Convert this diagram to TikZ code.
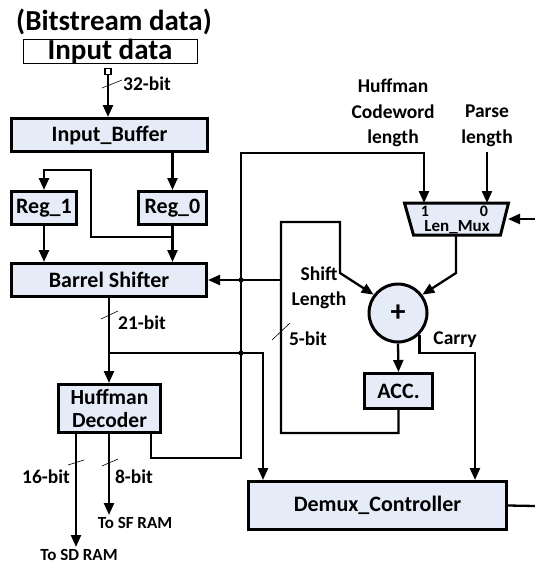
\documentclass[tikz,border=0pt]{standalone}
\usepackage{fontspec}
\setmainfont{Carlito}
\usetikzlibrary{arrows.meta}
\definecolor{boxblue}{RGB}{230,236,247}

\begin{document}
\begin{tikzpicture}[x=1pt,y=-1pt,
  blk/.style={draw, line width=3pt, fill=boxblue, inner sep=0pt, align=center,
    font=\fontsize{22}{26}\selectfont\bfseries},
  arr/.style={line width=2.3pt, -{Triangle[length=12pt,width=10pt]}},
  wire/.style={line width=2.3pt},
  lbl/.style={inner sep=0pt, align=center, font=\fontsize{19.5}{25.5}\selectfont\bfseries},
  small/.style={inner sep=0pt, font=\fontsize{17}{18}\selectfont\bfseries},
  tick/.style={line width=0.6pt}]
\useasboundingbox (0,0) rectangle (535,565);
%  Input side
\node[inner sep=0pt, font=\fontsize{29}{30}\selectfont\bfseries] (bits) at (114,22) {(Bitstream data)};
\node[draw, line width=1pt, minimum width=174, minimum height=24, inner sep=0pt,
  font=\fontsize{29}{30}\selectfont\bfseries] (indata) at (110,51.5) {Input data};
\node[draw, line width=1.5pt, minimum size=6, inner sep=0pt] (pin) at (108,71.5) {};
\node[blk, minimum width=196, minimum height=33] (ibuf) at (109.5,135) {Input\_Buffer};
\node[blk, minimum width=65, minimum height=33] (reg1) at (44,208) {Reg\_1};
\node[blk, minimum width=68, minimum height=33] (reg0) at (172.5,208) {Reg\_0};
\node[blk, minimum width=195, minimum height=33] (barrel) at (109,280) {Barrel Shifter};
\node[blk, minimum width=102, minimum height=48,
  font=\fontsize{21.5}{22}\selectfont\bfseries] (huff) at (109.5,408.5) {Huffman\\[1pt]Decoder};
%  Length loop
\node[blk, minimum width=68, minimum height=35] (acc) at (398.5,391) {ACC.};
\node[blk, circle, minimum size=58] (sum) at (398,313) {\fontsize{30}{30}\selectfont +};
\node[blk, minimum width=258, minimum height=48] (demux) at (377.5,505.5) {Demux\_Controller};
\draw[line width=3pt, fill=boxblue] (404.5,203) -- (508.5,203) -- (500.5,235) -- (413.5,235) -- cycle;
\coordinate (mux) at (456,219);
\node[small, font=\fontsize{16}{16}\selectfont\bfseries] (mone) at (425,211) {1};
\node[small, font=\fontsize{16}{16}\selectfont\bfseries] (mzero) at (484,211) {0};
\node[small] (mname) at (457,227) {Len\_Mux};
\node[lbl] (hcl) at (393,113) {Huffman\\Codeword\\length};
\node[lbl] (parse) at (487,126) {Parse\\length};
\coordinate (muxin) at (535,219);
\coordinate (dout) at (535,506);
\coordinate (cy) at (475,353);
%  Connectors
\draw[arr] (pin.south) -- (pin.south |- ibuf.north);
\draw[arr] (reg0.north |- ibuf.south) -- (reg0.north);
\draw[arr] (reg0.south) -- (reg0.south |- barrel.north);
\draw[arr] (reg1.south) -- (reg1.south |- barrel.north);
\draw[arr] (172.5,237) -| (91,170) -| (reg1.north);
\draw[arr] (barrel.south) -- (barrel.south |- huff.north);
\draw[arr] (109,353) -| (263,480);
\draw[arr] ([xshift=-11pt]huff.south east) |- (241,458) -- (241,153) -| (424,203);
\draw[arr] (parse.south) ++(0,5) -- (487,203);
\draw[arr] (muxin) -- (508,219);
\draw[arr] (456,235) -- (456,273) -- (sum.37);
\draw[arr] (acc.south) |- (281,433) -- (281,222) -| (340,273) -- (sum.143);
\draw[arr] (281,280) -- (barrel.east);
\draw[arr] (sum.south) -- (acc.north);
\draw[arr] (sum.-45) |- (cy) -- (cy |- demux.north);
\draw[wire] (demux.east) -- (dout);
\draw[arr] (76,434) -- (76,547);
\draw[arr] (109,434) -- (109,515);
\fill (241,280) circle (2.5pt) (241,353) circle (2.5pt);
%  Bit widths
\draw[tick] (102,88) -- (122,80);
\node[lbl] (w32) at (147,84) {32-bit};
\draw[tick] (101,319) -- (118,311);
\node[lbl] (w21) at (142,323) {21-bit};
\draw[tick] (272,340) -- (290,323);
\node[lbl] (w5) at (308,339) {5-bit};
\draw[tick] (68,465) -- (84,460);
\node[lbl] (w16) at (46,477) {16-bit};
\draw[tick] (102,466) -- (118,459);
\node[lbl] (w8) at (134,477) {8-bit};
\node[lbl] (shl) at (319,288) {Shift\\Length};
\node[lbl] (carry) at (455,340) {Carry};
\node[small] (sdram) at (79,555) {To SD RAM};
\node[small] (sfram) at (135,523) {To SF RAM};
\end{tikzpicture}
\end{document}
